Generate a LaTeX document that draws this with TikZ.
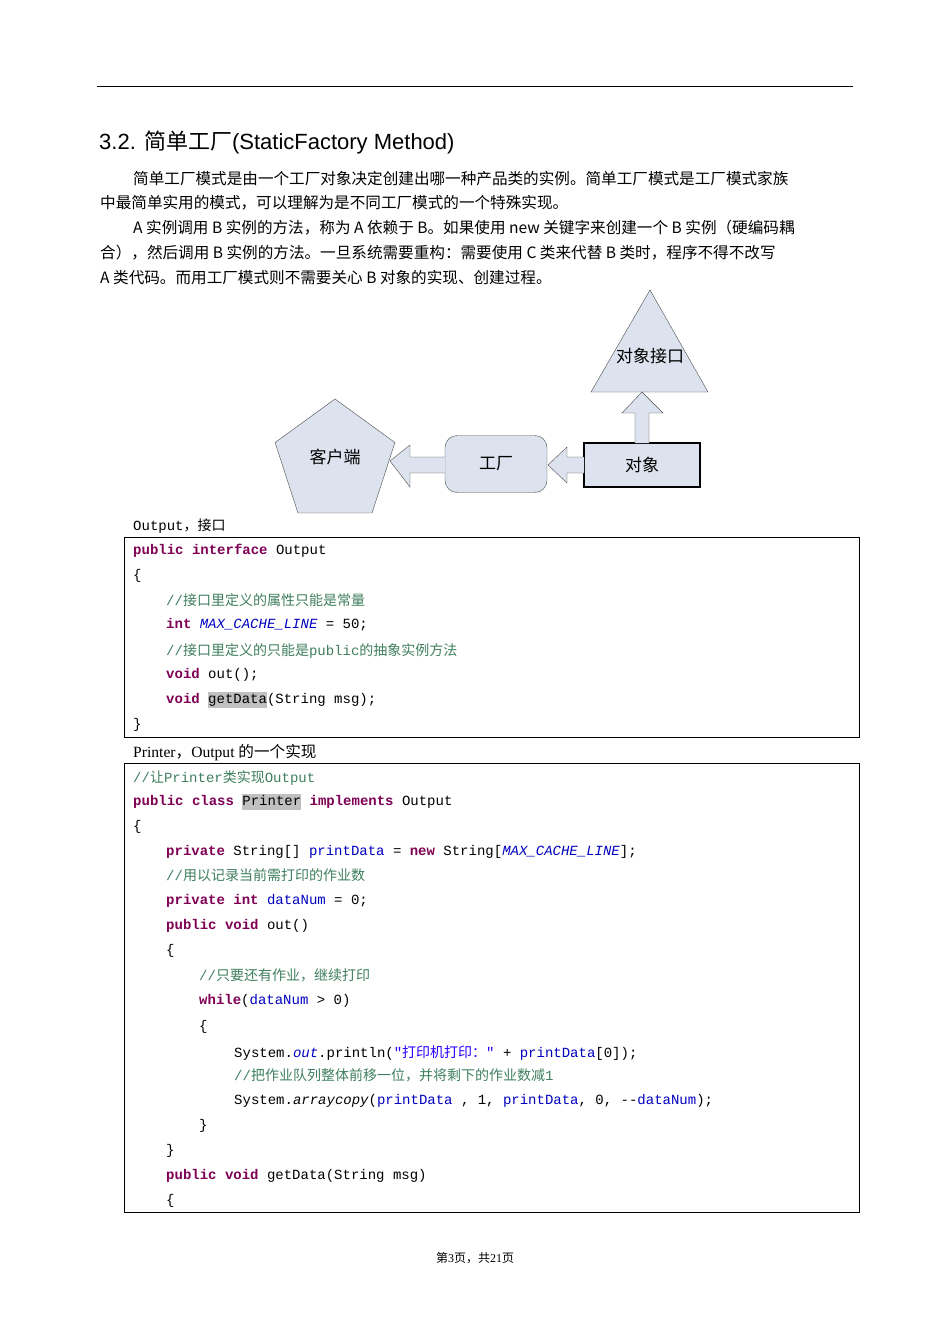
\documentclass[tikz,border=0pt]{standalone}
\usepackage{fontspec}
\setmainfont{Liberation Serif}
\setmonofont{Liberation Mono}
\newfontfamily\cjk{Noto Sans CJK SC}
\newfontfamily\hsans{Liberation Sans}
\usetikzlibrary{shapes.geometric}
\definecolor{kwc}{RGB}{127,0,85}
\definecolor{cmc}{RGB}{63,127,95}
\definecolor{fdc}{RGB}{0,0,192}
\definecolor{stc}{RGB}{42,0,255}
\definecolor{shp}{RGB}{220,226,238}
\newcommand\kw[1]{\textcolor{kwc}{\bfseries #1}}
\newcommand\cm[1]{\textcolor{cmc}{#1}}
\newcommand\fd[1]{\textcolor{fdc}{#1}}
\newcommand\fdi[1]{\textcolor{fdc}{\itshape #1}}
\newcommand\hl[1]{{\setlength\fboxsep{0pt}\colorbox[RGB]{192,192,192}{\strut #1}}}
\begin{document}
\begin{tikzpicture}[x=1pt,y=-1pt,
  body/.style={anchor=base west,inner sep=0,font=\cjk\fontsize{15.6}{18}\selectfont},
  code/.style={anchor=base west,inner sep=0,font=\ttfamily\fontsize{14}{16}\selectfont},
  shpbox/.style={draw=black!70,fill=shp},
  blockarrow/.style={draw=black!70,fill=shp}]
\useasboundingbox (0,0) rectangle (950,1344);
\fill[white] (0,0) rectangle (950,1344);
\draw[line width=0.8pt] (97,86) -- (853,86);
\node[anchor=base west,inner sep=0,font=\fontsize{22}{24}\selectfont] (title) at (99,149) {\hsans 3.2. {\cjk 简单工厂}(StaticFactory Method)};
\node[body] (p1) at (133,184) {简单工厂模式是由一个工厂对象决定创建出哪一种产品类的实例。简单工厂模式是工厂模式家族};
\node[body] (p2) at (100,208) {中最简单实用的模式，可以理解为是不同工厂模式的一个特殊实现。};
\node[body] (p3) at (133,233) {A 实例调用 B 实例的方法，称为 A 依赖于 B。如果使用 new 关键字来创建一个 B 实例（硬编码耦};
\node[body] (p4) at (100,258) {合），然后调用 B 实例的方法。一旦系统需要重构：需要使用 C 类来代替 B 类时，程序不得不改写};
\node[body] (p5) at (100,283) {A 类代码。而用工厂模式则不需要关心 B 对象的实现、创建过程。};
% diagram
\draw[shpbox] (650,290) -- (708,392) -- (591,392) -- cycle;
\node[font=\cjk\fontsize{17}{18}\selectfont] (iface) at (650,356) {对象接口};
\node[draw=black,line width=1.2pt,fill=shp,minimum width=116pt,minimum height=44pt,font=\cjk\fontsize{17}{18}\selectfont] (obj) at (642,465) {对象};
\node[shpbox,rounded corners=12pt,minimum width=102pt,minimum height=57pt,font=\cjk\fontsize{17}{18}\selectfont] (fac) at (496,464) {工厂};
\node[shpbox,regular polygon,regular polygon sides=5,minimum size=126pt,inner sep=0] (cli) at (335,462) {};
\node[font=\cjk\fontsize{17}{18}\selectfont] (clitext) at (335,457) {客户端};
\draw[blockarrow] (635,443) -- (635,413) -- (622,413) -- (642,392) -- (663,413) -- (649,413) -- (649,443);
\draw[blockarrow] (584,457) -- (567,457) -- (567,447) -- (548,465) -- (567,483) -- (567,473) -- (584,473);
\draw[blockarrow] (445,457) -- (410,457) -- (410,445) -- (390,461) -- (410,487) -- (410,473) -- (445,473);
% code box 1
\node[anchor=base west,inner sep=0,font=\ttfamily\fontsize{14}{16}\selectfont] (lab1) at (133,530) {Output{\cjk ，接口}};
\draw[line width=0.7pt] (124,537) rectangle (859,737);
\node[code] (a1) at (133,554) {\kw{public} \kw{interface} Output};
\node[code] (a2) at (133,579) {\{};
\node[code] (a3) at (166,605) {\cm{//{\cjk 接口里定义的属性只能是常量}}};
\node[code] (a4) at (166,628) {\kw{int} \fdi{MAX\_CACHE\_LINE} = 50;};
\node[code] (a5) at (166,655) {\cm{//{\cjk 接口里定义的只能是}public{\cjk 的抽象实例方法}}};
\node[code] (a6) at (166,678) {\kw{void} out();};
\node[code] (a7) at (166,703) {\kw{void} \hl{getData}(String msg);};
\node[code] (a8) at (133,728) {\}};
% code box 2
\node[anchor=base west,inner sep=0,font=\fontsize{15.6}{18}\selectfont] (lab2) at (133,757) {Printer{\cjk ，}Output {\cjk 的一个实现}};
\draw[line width=0.7pt] (124,763) rectangle (859,1212);
\node[code] (b1) at (133,782) {\cm{//{\cjk 让}Printer{\cjk 类实现}Output}};
\node[code] (b2) at (133,805) {\kw{public} \kw{class} \hl{Printer} \kw{implements} Output};
\node[code] (b3) at (133,830) {\{};
\node[code] (b4) at (166,855) {\kw{private} String[] \fd{printData} = \kw{new} String[\fdi{MAX\_CACHE\_LINE}];};
\node[code] (b5) at (166,880) {\cm{//{\cjk 用以记录当前需打印的作业数}}};
\node[code] (b6) at (166,904) {\kw{private} \kw{int} \fd{dataNum} = 0;};
\node[code] (b7) at (166,929) {\kw{public} \kw{void} out()};
\node[code] (b8) at (166,954) {\{};
\node[code] (b9) at (199,980) {\cm{//{\cjk 只要还有作业，继续打印}}};
\node[code] (b10) at (199,1004) {\kw{while}(\fd{dataNum} > 0)};
\node[code] (b11) at (199,1030) {\{};
\node[code] (b12) at (234,1057) {System.\fdi{out}.println(\textcolor{stc}{"{\cjk 打印机打印：}"} + \fd{printData}[0]);};
\node[code] (b13) at (234,1080) {\cm{//{\cjk 把作业队列整体前移一位，并将剩下的作业数减}1}};
\node[code] (b14) at (234,1104) {System.{\itshape arraycopy}(\fd{printData} , 1, \fd{printData}, 0, --\fd{dataNum});};
\node[code] (b15) at (199,1129) {\}};
\node[code] (b16) at (166,1154) {\}};
\node[code] (b17) at (166,1179) {\kw{public} \kw{void} getData(String msg)};
\node[code] (b18) at (166,1204) {\{};
\node[anchor=base,inner sep=0,font=\fontsize{12}{14}\selectfont] (foot) at (475,1262) {{\cjk 第}3{\cjk 页，共}21{\cjk 页}};
\end{tikzpicture}
\end{document}
